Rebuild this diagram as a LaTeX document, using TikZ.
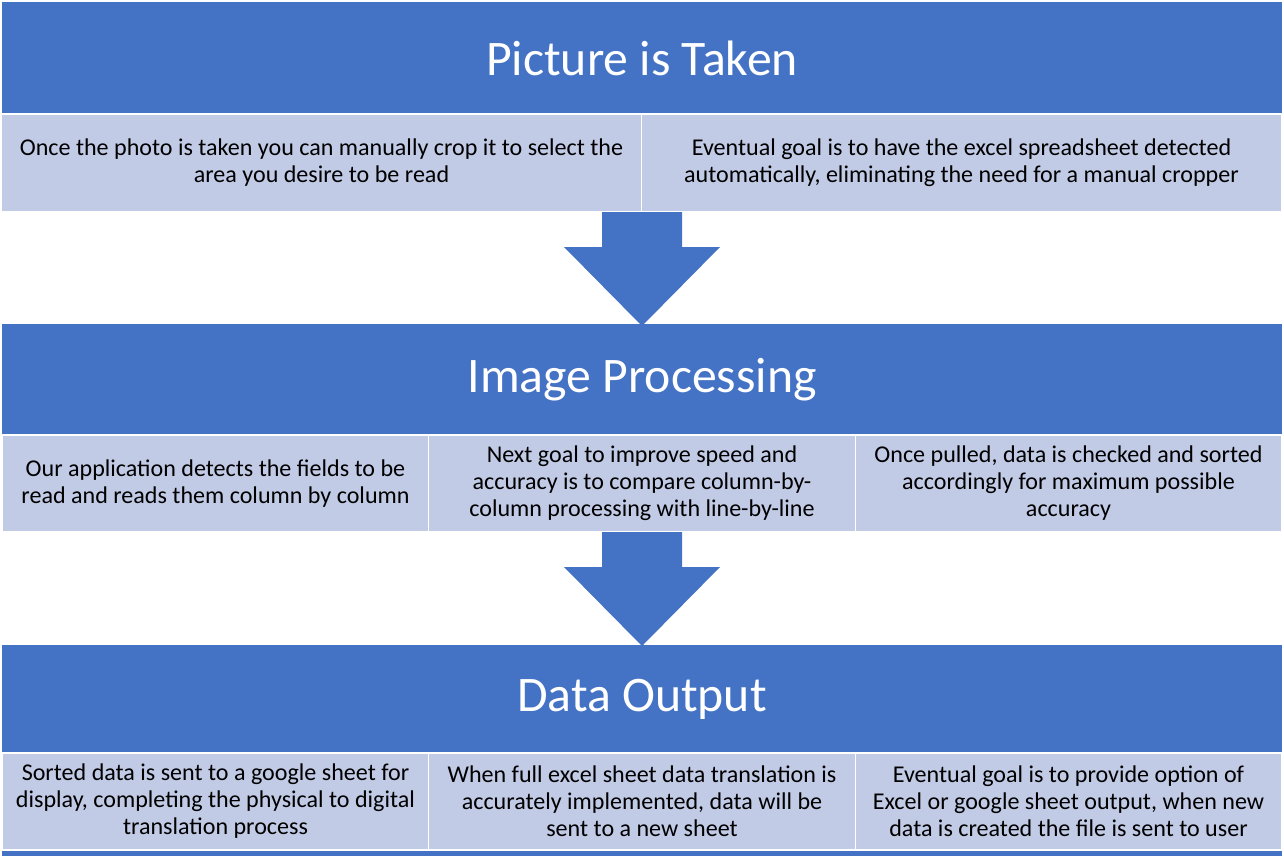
\documentclass[tikz,border=0pt]{standalone}
\usepackage{fontspec}
\setmainfont{Carlito}
\definecolor{hdrblue}{HTML}{4472C4}
\definecolor{cellblue}{HTML}{C2CBE6}

\begin{document}
\begin{tikzpicture}[x=0.02cm, y=-0.02cm,
	title/.style={text=white, font=\fontsize{28.3}{33}\selectfont},
	cell/.style={fill=cellblue, draw=white, line width=0.6pt, align=center, inner sep=0pt,
		font=\fontsize{13.7}{15.4}\selectfont},
	wide/.style={cell, minimum width=12.8cm},
	third/.style={cell, minimum width=8.53cm}]
	\useasboundingbox (0,0) rectangle (1284,856);

	% header bands
	\fill[hdrblue] (2,2) rectangle (1282,114);
	\fill[hdrblue] (2,324) rectangle (1282,435);
	\fill[hdrblue] (2,645) rectangle (1282,856);

	\node[title] at (642, 58) (T1) {Picture is Taken};
	\node[title] at (642, 380) (T2) {Image Processing};
	\node[title] at (642, 699) (T3) {Data Output};

	% first row
	\node[wide, minimum height=1.96cm] at (321.5, 163) (A1) {Once the photo is taken you can manually crop it to select the\\area you desire to be read};
	\node[wide, minimum height=1.96cm] at (961.5, 163) (B1) {Eventual goal is to have the excel spreadsheet detected\\automatically, eliminating the need for a manual cropper};

	% second row
	\node[third, minimum height=1.94cm] at (215.5, 483.5) (A2) {Our application detects the fields to be\\read and reads them column by column};
	\node[third, minimum height=1.94cm] at (642, 483.5) (B2) {Next goal to improve speed and\\accuracy is to compare column-by-\\column processing with line-by-line};
	\node[third, minimum height=1.94cm] at (1068.5, 483.5) (C2) {Once pulled, data is checked and sorted\\accordingly for maximum possible\\accuracy};

	% third row
	\node[third, minimum height=1.94cm] at (215.5, 801.5) (A3) {Sorted data is sent to a google sheet for\\display, completing the physical to digital\\translation process};
	\node[third, minimum height=1.94cm] at (642, 801.5) (B3) {When full excel sheet data translation is\\accurately implemented, data will be\\sent to a new sheet};
	\node[third, minimum height=1.94cm] at (1068.5, 801.5) (C3) {Eventual goal is to provide option of\\Excel or google sheet output, when new\\data is created the file is sent to user};

	% block arrows between the bands
	\foreach \t in {212, 532}
		\fill[hdrblue] (602,\t) -- (682,\t) -- (682,\t+35) -- (720,\t+35) -- (642,\t+114)
			-- (564,\t+35) -- (602,\t+35) -- cycle;
\end{tikzpicture}
\end{document}
